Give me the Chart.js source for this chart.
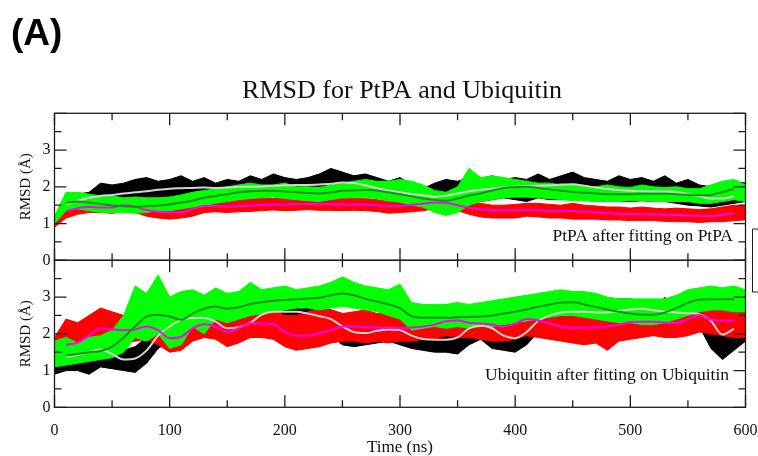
<!DOCTYPE html>
<html>
<head>
<meta charset="utf-8">
<title>RMSD for PtPA and Ubiquitin</title>
<script src="https://cdn.jsdelivr.net/npm/chart.js@4.4.0/dist/chart.umd.min.js"></script>
<style>
  html, body { margin: 0; padding: 0; background: #fff; }
  #wrap { position: relative; width: 758px; height: 456px; }
</style>
</head>
<body>
<div id="wrap"><canvas id="rmsdChart" width="758" height="456"></canvas></div>
<script>
// Time axis (ns), one sample every 10 ns
const times = [0, 10, 20, 30, 40, 50, 60, 70, 80, 90,
    100, 110, 120, 130, 140, 150, 160, 170, 180, 190,
    200, 210, 220, 230, 240, 250, 260, 270, 280, 290,
    300, 310, 320, 330, 340, 350, 360, 370, 380, 390,
    400, 410, 420, 430, 440, 450, 460, 470, 480, 490,
    500, 510, 520, 530, 540, 550, 560, 570, 580, 590, 600];

const xTickValues = [0, 50, 100, 150, 200, 250, 300, 350, 400, 450, 500, 550, 600];
const yTickValues = [0, 0.5, 1, 1.5, 2, 2.5, 3, 3.5, 4];

// ---- Top panel: PtPA after fitting on PtPA ---------------------------------
// Noisy traces are drawn as a band between the low and high edge of the trace.
const topBlackLo = [0.95, 1.40, 1.45, 1.50, 1.55, 1.55, 1.60, 1.60, 1.65, 1.60,
    1.70, 1.70, 1.75, 1.72, 1.75, 1.80, 1.75, 1.80, 1.82, 1.80,
    1.85, 1.78, 1.72, 1.75, 1.80, 1.85, 1.80, 1.75, 1.70, 1.65,
    1.60, 1.55, 1.55, 1.50, 1.55, 1.60, 1.62, 1.60, 1.65, 1.70,
    1.65, 1.60, 1.70, 1.65, 1.65, 1.70, 1.65, 1.60, 1.62, 1.60,
    1.60, 1.62, 1.60, 1.60, 1.55, 1.50, 1.48, 1.45, 1.50, 1.55, 1.60];
const topBlackHi = [1.10, 1.75, 1.80, 1.85, 2.10, 2.05, 2.10, 2.20, 2.25, 2.15,
    2.20, 2.30, 2.15, 2.25, 2.10, 2.20, 2.15, 2.30, 2.20, 2.35,
    2.25, 2.20, 2.25, 2.35, 2.50, 2.40, 2.30, 2.35, 2.25, 2.15,
    2.25, 2.05, 1.95, 2.10, 2.20, 2.15, 2.25, 2.20, 2.30, 2.20,
    2.25, 2.20, 2.35, 2.20, 2.30, 2.40, 2.25, 2.20, 2.15, 2.30,
    2.20, 2.25, 2.15, 2.30, 2.10, 2.20, 2.05, 2.00, 2.10, 2.15, 2.10];
const topRedLo = [0.90, 1.15, 1.25, 1.30, 1.30, 1.28, 1.32, 1.30, 1.20, 1.15,
    1.12, 1.15, 1.20, 1.30, 1.32, 1.30, 1.32, 1.33, 1.35, 1.37,
    1.35, 1.36, 1.38, 1.36, 1.36, 1.35, 1.36, 1.35, 1.33, 1.28,
    1.30, 1.32, 1.35, 1.40, 1.42, 1.35, 1.25, 1.18, 1.15, 1.15,
    1.15, 1.20, 1.18, 1.15, 1.15, 1.12, 1.12, 1.12, 1.10, 1.10,
    1.08, 1.08, 1.08, 1.06, 1.05, 1.05, 1.03, 1.05, 1.05, 1.08, 1.10];
const topRedHi = [1.10, 1.45, 1.55, 1.58, 1.60, 1.60, 1.62, 1.60, 1.50, 1.45,
    1.45, 1.48, 1.55, 1.65, 1.62, 1.62, 1.65, 1.68, 1.70, 1.68,
    1.70, 1.72, 1.70, 1.68, 1.70, 1.68, 1.70, 1.68, 1.65, 1.60,
    1.65, 1.68, 1.70, 1.80, 1.72, 1.70, 1.60, 1.55, 1.50, 1.50,
    1.52, 1.55, 1.55, 1.52, 1.50, 1.55, 1.50, 1.48, 1.45, 1.45,
    1.42, 1.45, 1.42, 1.40, 1.42, 1.40, 1.38, 1.40, 1.45, 1.50, 1.48];
const topGreenLo = [1.00, 1.35, 1.40, 1.35, 1.30, 1.30, 1.30, 1.28, 1.30, 1.35,
    1.35, 1.40, 1.45, 1.50, 1.55, 1.60, 1.65, 1.68, 1.70, 1.72,
    1.68, 1.65, 1.62, 1.60, 1.65, 1.70, 1.70, 1.70, 1.68, 1.62,
    1.58, 1.50, 1.45, 1.30, 1.22, 1.30, 1.50, 1.60, 1.65, 1.70,
    1.72, 1.72, 1.70, 1.68, 1.65, 1.62, 1.62, 1.60, 1.60, 1.60,
    1.62, 1.62, 1.60, 1.60, 1.60, 1.60, 1.55, 1.55, 1.60, 1.65, 1.60];
const topGreenHi = [1.20, 1.85, 1.85, 1.80, 1.75, 1.75, 1.70, 1.72, 1.70, 1.70,
    1.72, 1.78, 1.85, 1.90, 1.95, 2.00, 2.05, 2.10, 2.05, 2.05,
    2.10, 2.00, 2.00, 1.98, 2.05, 2.10, 2.15, 2.20, 2.15, 2.15,
    2.20, 2.15, 2.05, 1.90, 1.85, 2.00, 2.50, 2.25, 2.30, 2.25,
    2.20, 2.15, 2.10, 2.10, 2.05, 2.05, 2.00, 2.00, 2.05, 2.00,
    1.98, 2.05, 2.00, 1.98, 2.00, 1.95, 1.95, 2.05, 2.15, 2.20, 2.05];
// Running averages (no value at the two ends)
const topBlackAvg = [null, 1.53, 1.62, 1.70, 1.75, 1.78, 1.82, 1.85, 1.88, 1.92,
    1.95, 1.96, 1.97, 1.98, 1.97, 1.98, 2.00, 2.00, 2.01, 2.03,
    2.04, 2.05, 2.05, 2.06, 2.08, 2.12, 2.10, 2.04, 1.96, 1.90,
    1.85, 1.80, 1.77, 1.73, 1.76, 1.82, 1.88, 1.92, 1.95, 1.98,
    2.00, 2.02, 2.03, 2.04, 2.06, 2.07, 2.03, 1.98, 1.94, 1.91,
    1.89, 1.88, 1.87, 1.87, 1.86, 1.80, 1.74, 1.68, 1.68, 1.74, null];
const topRedAvg = [null, 1.33, 1.42, 1.45, 1.44, 1.44, 1.50, 1.46, 1.37, 1.32,
    1.30, 1.31, 1.40, 1.48, 1.48, 1.46, 1.47, 1.49, 1.51, 1.52,
    1.52, 1.53, 1.53, 1.53, 1.53, 1.52, 1.52, 1.52, 1.50, 1.47,
    1.48, 1.51, 1.54, 1.57, 1.56, 1.50, 1.43, 1.39, 1.37, 1.36,
    1.36, 1.37, 1.36, 1.35, 1.35, 1.34, 1.33, 1.31, 1.29, 1.27,
    1.26, 1.25, 1.25, 1.24, 1.23, 1.22, 1.21, 1.20, 1.24, 1.28, null];
const topGreenAvg = [null, 1.56, 1.60, 1.57, 1.53, 1.49, 1.47, 1.46, 1.47, 1.49,
    1.52, 1.57, 1.63, 1.70, 1.75, 1.80, 1.85, 1.88, 1.89, 1.89,
    1.87, 1.85, 1.83, 1.82, 1.85, 1.89, 1.90, 1.91, 1.90, 1.85,
    1.80, 1.74, 1.68, 1.64, 1.62, 1.68, 1.76, 1.82, 1.90, 1.97,
    1.99, 2.00, 1.97, 1.93, 1.89, 1.86, 1.84, 1.82, 1.80, 1.80,
    1.80, 1.81, 1.81, 1.81, 1.80, 1.78, 1.77, 1.78, 1.86, 1.94, null];

// ---- Bottom panel: Ubiquitin after fitting on Ubiquitin --------------------
const botBlackLo = [0.90, 1.00, 1.00, 0.90, 1.10, 1.05, 1.00, 0.95, 1.20, 1.60,
    1.80, 2.00, 2.10, 2.15, 2.00, 1.80, 1.90, 2.05, 2.20, 2.30,
    2.35, 2.30, 2.20, 2.15, 1.95, 1.70, 1.65, 1.70, 1.75, 1.80,
    1.70, 1.60, 1.55, 1.50, 1.50, 1.45, 1.70, 1.85, 1.60, 1.55,
    1.50, 1.70, 2.05, 2.20, 2.30, 2.30, 2.25, 2.25, 2.30, 2.35,
    2.45, 2.40, 2.35, 2.30, 2.25, 2.25, 2.20, 1.60, 1.30, 1.55, 1.80];
const botBlackHi = [1.70, 1.50, 1.60, 1.55, 1.75, 1.65, 1.55, 1.65, 1.90, 2.20,
    2.40, 2.60, 2.55, 2.65, 2.50, 2.40, 2.45, 2.55, 2.75, 2.80,
    2.75, 2.70, 2.75, 2.70, 2.65, 2.55, 2.35, 2.30, 2.40, 2.35,
    2.40, 2.20, 2.15, 2.10, 2.20, 2.30, 2.55, 2.60, 2.85, 2.30,
    2.20, 2.60, 2.70, 2.75, 2.85, 2.80, 2.85, 2.80, 2.80, 2.95,
    2.95, 2.90, 2.85, 2.80, 2.80, 2.75, 2.80, 2.65, 2.40, 2.50, 2.35];
const botRedLo = [1.20, 1.40, 1.45, 1.60, 1.80, 1.75, 1.75, 1.80, 1.85, 1.70,
    1.50, 1.55, 1.80, 1.90, 1.85, 1.65, 1.75, 1.90, 1.90, 1.85,
    1.65, 1.55, 1.60, 1.65, 1.75, 1.80, 1.80, 1.75, 1.80, 1.75,
    1.80, 1.80, 1.85, 1.85, 1.95, 1.90, 1.90, 1.85, 1.80, 1.80,
    1.85, 1.95, 1.90, 1.85, 1.80, 1.75, 1.70, 1.75, 1.55, 1.80,
    1.85, 1.90, 1.95, 1.90, 1.90, 1.95, 2.05, 2.00, 1.95, 1.90, 1.90];
const botRedHi = [1.90, 2.40, 2.30, 2.50, 2.70, 2.60, 2.50, 2.60, 2.70, 2.55,
    2.35, 2.50, 2.60, 2.65, 2.55, 2.45, 2.60, 2.70, 2.60, 2.65,
    2.50, 2.50, 2.60, 2.70, 2.65, 2.55, 2.60, 2.65, 2.55, 2.60,
    2.55, 2.60, 2.65, 2.70, 2.80, 2.75, 2.65, 2.70, 2.60, 2.75,
    2.70, 2.80, 2.75, 2.70, 2.60, 2.65, 2.55, 2.60, 2.70, 2.65,
    2.70, 2.75, 2.70, 3.00, 2.70, 2.75, 2.85, 2.80, 2.75, 2.70, 2.60];
const botGreenLo = [1.10, 1.15, 1.20, 1.25, 1.30, 1.35, 1.50, 1.90, 1.80, 2.00,
    1.60, 1.70, 2.20, 2.00, 2.40, 2.30, 2.40, 2.50, 2.55, 2.60,
    2.65, 2.70, 2.70, 2.65, 2.70, 2.75, 2.70, 2.65, 2.60, 2.50,
    2.40, 2.10, 2.15, 2.20, 2.15, 2.20, 2.15, 2.20, 2.20, 2.25,
    2.30, 2.35, 2.40, 2.45, 2.50, 2.50, 2.45, 2.40, 2.35, 2.30,
    2.30, 2.25, 2.25, 2.30, 2.40, 2.50, 2.60, 2.65, 2.65, 2.60, 2.60];
const botGreenHi = [1.80, 1.90, 1.75, 1.90, 1.95, 2.10, 2.50, 3.30, 3.10, 3.60,
    3.00, 3.15, 3.20, 3.05, 3.25, 3.10, 3.15, 3.40, 3.20, 3.25,
    3.30, 3.20, 3.25, 3.30, 3.40, 3.55, 3.40, 3.30, 3.25, 3.20,
    3.35, 2.85, 2.80, 2.80, 2.80, 2.85, 2.80, 2.85, 2.90, 2.95,
    3.00, 3.05, 3.10, 3.15, 3.20, 3.15, 3.15, 3.10, 3.00, 2.95,
    2.95, 2.95, 2.95, 2.95, 3.05, 3.20, 3.25, 3.30, 3.25, 3.30, 3.20];
const botBlackAvg = [null, 1.38, 1.42, 1.50, 1.57, 1.45, 1.30, 1.33, 1.55, 1.95,
    2.20, 2.38, 2.43, 2.43, 2.33, 2.15, 2.18, 2.30, 2.52, 2.60,
    2.60, 2.60, 2.55, 2.48, 2.40, 2.20, 2.05, 2.02, 2.08, 2.12,
    2.10, 1.95, 1.86, 1.84, 1.84, 1.90, 2.15, 2.22, 2.15, 1.95,
    1.88, 2.05, 2.35, 2.50, 2.58, 2.60, 2.60, 2.58, 2.58, 2.62,
    2.66, 2.68, 2.64, 2.60, 2.58, 2.56, 2.53, 2.35, 1.98, 2.14, null];
const botRedAvg = [null, 1.70, 1.76, 1.95, 2.15, 2.12, 2.10, 2.12, 2.20, 2.10,
    1.88, 1.92, 2.15, 2.26, 2.20, 2.05, 2.15, 2.29, 2.28, 2.26,
    2.05, 1.95, 1.95, 2.02, 2.10, 2.20, 2.20, 2.18, 2.17, 2.16,
    2.15, 2.17, 2.20, 2.25, 2.34, 2.36, 2.30, 2.28, 2.25, 2.20,
    2.28, 2.40, 2.36, 2.28, 2.20, 2.16, 2.17, 2.18, 2.20, 2.25,
    2.32, 2.33, 2.33, 2.31, 2.30, 2.40, 2.51, 2.38, 2.36, 2.36, null];
const botGreenAvg = [null, 1.41, 1.45, 1.50, 1.53, 1.65, 1.90, 2.20, 2.47, 2.52,
    2.47, 2.38, 2.55, 2.68, 2.74, 2.68, 2.72, 2.81, 2.86, 2.90,
    2.92, 2.94, 2.96, 2.98, 3.05, 3.10, 3.05, 2.95, 2.88, 2.80,
    2.70, 2.48, 2.44, 2.44, 2.44, 2.45, 2.46, 2.47, 2.50, 2.55,
    2.60, 2.66, 2.74, 2.80, 2.85, 2.86, 2.80, 2.73, 2.66, 2.60,
    2.55, 2.52, 2.52, 2.58, 2.70, 2.84, 2.93, 2.94, 2.94, 2.94, null];

const SERIF = '"Liberation Serif", "Times New Roman", serif';

function pts(arr) {
    const out = [];
    arr.forEach((v, i) => { if (v !== null) out.push({ x: times[i], y: v }); });
    return out;
}

// a low edge plus a high edge filled down to it
function band(lo, hi, color, axis, order) {
    return [
        { data: pts(lo), yAxisID: axis, borderColor: color, borderWidth: 1,
          pointRadius: 0, fill: false, tension: 0, order: order },
        { data: pts(hi), yAxisID: axis, borderColor: color, borderWidth: 1,
          backgroundColor: color, pointRadius: 0, fill: '-1', tension: 0, order: order }
    ];
}

function avg(arr, color, axis, order) {
    return { data: pts(arr), yAxisID: axis, borderColor: color, borderWidth: 2,
             pointRadius: 0, fill: false, cubicInterpolationMode: 'monotone', order: order };
}

const datasets = [].concat(
    band(topBlackLo, topBlackHi, '#000000', 'yTop', 6),
    band(topRedLo, topRedHi, '#ff0000', 'yTop', 5),
    band(topGreenLo, topGreenHi, '#00ff00', 'yTop', 4),
    [avg(topBlackAvg, '#d4d4d4', 'yTop', 3),
     avg(topRedAvg, '#ff00ff', 'yTop', 2),
     avg(topGreenAvg, '#1f8f1f', 'yTop', 1)],
    band(botBlackLo, botBlackHi, '#000000', 'yBot', 6),
    band(botRedLo, botRedHi, '#ff0000', 'yBot', 5),
    band(botGreenLo, botGreenHi, '#00ff00', 'yBot', 4),
    [avg(botBlackAvg, '#d4d4d4', 'yBot', 3),
     avg(botRedAvg, '#ff00ff', 'yBot', 2),
     avg(botGreenAvg, '#1f8f1f', 'yBot', 1)]
);

function yScale(weight) {
    return {
        type: 'linear',
        position: 'left',
        stack: 'rmsd',
        stackWeight: 1,
        weight: weight,
        min: 0,
        max: 4,
        grid: { display: false, drawTicks: false },
        border: { display: false },
        ticks: {
            stepSize: 1,
            autoSkip: false,
            padding: 4,
            color: '#111',
            font: { family: SERIF, size: 16 },
            callback: (v) => (v === 4 ? '' : v)
        },
        title: {
            display: true,
            text: 'RMSD (Å)',
            color: '#111',
            font: { family: SERIF, size: 15 },
            padding: { top: 17, bottom: 0 }
        },
        afterFit: (scale) => { scale.width = 54.5; }
    };
}

// frame, inward ticks and the text of the figure
const frame = {
    id: 'frame',
    afterDraw(chart) {
        const { ctx, chartArea, scales } = chart;
        const xs = scales.x;
        ctx.save();
        ctx.strokeStyle = '#1e1e1e';
        ctx.lineWidth = 1.3;
        ['yTop', 'yBot'].forEach((id) => {
            const ys = scales[id];
            ctx.strokeRect(chartArea.left, ys.top, chartArea.right - chartArea.left, ys.bottom - ys.top);
            ctx.beginPath();
            xTickValues.forEach((t) => {
                const px = xs.getPixelForValue(t);
                const len = t % 100 === 0 ? 12 : 7;
                ctx.moveTo(px, ys.top); ctx.lineTo(px, ys.top + len);
                ctx.moveTo(px, ys.bottom); ctx.lineTo(px, ys.bottom - len);
            });
            yTickValues.forEach((v) => {
                const py = ys.getPixelForValue(v);
                const len = v % 1 === 0 ? 12 : 7;
                ctx.moveTo(chartArea.left, py); ctx.lineTo(chartArea.left + len, py);
                ctx.moveTo(chartArea.right, py); ctx.lineTo(chartArea.right - len, py);
            });
            ctx.stroke();
        });

        // legend box, cut off by the right edge
        ctx.lineWidth = 1;
        ctx.beginPath();
        ctx.moveTo(770, 229); ctx.lineTo(752.5, 229); ctx.lineTo(752.5, 292); ctx.lineTo(770, 292);
        ctx.stroke();

        ctx.fillStyle = '#111';
        ctx.textBaseline = 'middle';
        ctx.textAlign = 'center';
        ctx.font = '26px ' + SERIF;
        ctx.fillText('RMSD for PtPA and Ubiquitin', 402, 91);

        ctx.textAlign = 'right';
        ctx.font = '17.5px ' + SERIF;
        ctx.fillText('PtPA after fitting on PtPA', 733, 236);
        ctx.fillText('Ubiquitin after fitting on Ubiquitin', 729, 375);

        ctx.textAlign = 'left';
        ctx.textBaseline = 'alphabetic';
        ctx.fillStyle = '#000';
        ctx.font = 'bold 37px "Liberation Sans", Arial, sans-serif';
        ctx.fillText('(A)', 11, 45);
        ctx.restore();
    }
};

new Chart(document.getElementById('rmsdChart'), {
    type: 'line',
    data: { datasets: datasets },
    plugins: [frame],
    options: {
        responsive: false,
        animation: false,
        layout: { padding: { top: 113.3, right: 12.5, left: 0, bottom: 0 } },
        plugins: {
            legend: { display: false },
            tooltip: { enabled: false }
        },
        scales: {
            x: {
                type: 'linear',
                min: 0,
                max: 600,
                grid: { display: false, drawTicks: false },
                border: { display: false },
                ticks: {
                    stepSize: 100,
                    padding: 14,
                    color: '#111',
                    maxRotation: 0,
                    font: { family: SERIF, size: 16 }
                },
                title: {
                    display: true,
                    text: 'Time (ns)',
                    color: '#111',
                    font: { family: SERIF, size: 17, lineHeight: 1 },
                    padding: { top: 0, bottom: 0 }
                },
                afterFit: (scale) => {
                    scale.height = 48.7;
                    scale.paddingLeft = 0;
                    scale.paddingRight = 0;
                }
            },
            yTop: yScale(1),
            yBot: yScale(0)
        }
    }
});
</script>
</body>
</html>
